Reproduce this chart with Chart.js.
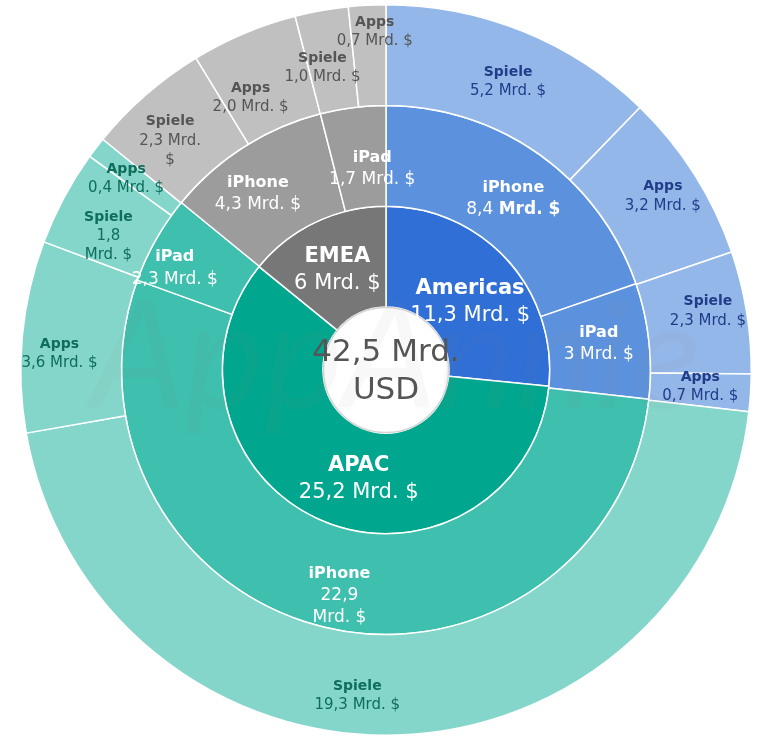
<!DOCTYPE html>
<html>
<head>
<meta charset="utf-8">
<script src="https://cdn.jsdelivr.net/npm/chart.js@4/dist/chart.umd.min.js"></script>
<style>
html,body{margin:0;padding:0;background:#fff;}
#wrap{width:757px;height:741px;}
</style>
</head>
<body>
<div id="wrap"><canvas id="c" width="757" height="741"></canvas></div>
<script>
// ---- data ----
const regions = ['Americas', 'APAC', 'EMEA'];
const regionValues = [11.3, 25.2, 6];
const devices = ['iPhone', 'iPad', 'iPhone', 'iPad', 'iPhone', 'iPad'];
const deviceValues = [8.4, 3, 22.9, 2.3, 4.3, 1.7];
const kinds = ['Spiele', 'Apps', 'Spiele', 'Apps', 'Spiele', 'Apps', 'Spiele', 'Apps', 'Spiele', 'Apps', 'Spiele', 'Apps'];
const kindValues = [5.2, 3.2, 2.3, 0.7, 19.3, 3.6, 1.8, 0.4, 2.3, 2.0, 1.0, 0.7];
const totalLabel = '42,5 Mrd.';
const totalUnit = 'USD';
const unit = 'Mrd. $';

// ---- styles ----
const innerColors = ['#2f6fd6', '#00a68d', '#777777'];
const middleColors = ['#5c92dd', '#5c92dd', '#3fbfad', '#3fbfad', '#9c9c9c', '#9c9c9c'];
const outerColors = ['#94b7e9','#94b7e9','#94b7e9','#94b7e9','#84d6ca','#84d6ca','#84d6ca','#84d6ca','#c0c0c0','#c0c0c0','#c0c0c0','#c0c0c0'];
const outerText = ['#1f3d88','#1f3d88','#1f3d88','#1f3d88','#0e6d5b','#0e6d5b','#0e6d5b','#0e6d5b','#555555','#555555','#555555','#555555'];

const fmtPlain = v => String(v).replace('.', ',');
const fmtFixed = v => v.toFixed(1).replace('.', ',');

// line-break rules: 'num' -> number on its own line, 'dollar' -> '$' on its own line
const outerBreaks = {6: 'num', 8: 'dollar'};
const middleBreaks = {2: 'num'};
const middleBoldUnit = {0: true};

// small label nudges relative to arc centre (ring-index)
const labelNudge = {
  '0-0': [4, 4], '0-1': [11, -5], '0-2': [11, -9], '0-3': [0, -3],
  '0-4': [-38, 11], '0-5': [-13, 13], '0-6': [0, 15], '0-7': [-10, 0],
  '0-8': [-9, 8], '0-9': [-13, 18], '0-10': [-8, 8], '0-11': [5, -24],
  '1-0': [3, 3], '1-1': [0, -3], '1-2': [2, 17], '1-3': [-25, 4],
  '1-4': [-13, 4], '1-5': [13, 11],
  '2-0': [0, 8], '2-1': [16, 4], '2-2': [0, 2]
};

function valueLines(valStr, brk) {
  if (brk === 'num') return [valStr, 'Mrd. $'];
  if (brk === 'dollar') return [valStr + ' Mrd.', '$'];
  return [valStr + ' ' + unit];
}

const FONT = "'DejaVu Sans', sans-serif";

const ringStyle = [
  {nameSize: 14, valSize: 15, lh: 19},   // outer
  {nameSize: 16, valSize: 17, lh: 22},   // middle
  {nameSize: 21, valSize: 21, lh: 27}    // inner
];

const sunPlugin = {
  id: 'sun',
  afterDatasetsDraw(chart) {
    const ctx = chart.ctx;
    const innerMeta = chart.getDatasetMeta(2);
    const a0 = innerMeta.data[0];
    const cx = a0.x, cy = a0.y, hole = a0.innerRadius;

    // watermark
    ctx.save();
    ctx.font = "italic 150px Lato, sans-serif";
    ctx.fillStyle = 'rgba(140,140,140,0.06)';
    ctx.textAlign = 'center';
    ctx.textBaseline = 'middle';
    ctx.fillText('AppAnnie', cx + 10, cy - 10);
    ctx.restore();

    // center circle outline
    ctx.save();
    ctx.beginPath();
    ctx.arc(cx, cy, hole - 0.5, 0, Math.PI * 2);
    ctx.strokeStyle = '#d4d4d4';
    ctx.lineWidth = 1.5;
    ctx.stroke();
    ctx.restore();

    ctx.save();
    ctx.textAlign = 'center';
    ctx.textBaseline = 'middle';
    chart.data.datasets.forEach((ds, di) => {
      const meta = chart.getDatasetMeta(di);
      const st = ringStyle[di];
      meta.data.forEach((arc, i) => {
        const c = arc.getCenterPoint();
        const nd = labelNudge[di + '-' + i] || [0, 0];
        const p = {x: c.x + nd[0], y: c.y + nd[1]};
        const name = ds.names[i];
        const v = ds.data[i];
        let vLines;
        if (di === 0) vLines = valueLines(fmtFixed(v), outerBreaks[i]);
        else if (di === 1) vLines = valueLines(fmtPlain(v), middleBreaks[i]);
        else vLines = valueLines(fmtPlain(v), undefined);
        const n = 1 + vLines.length;
        let y = p.y - (n - 1) * st.lh / 2;
        ctx.fillStyle = ds.textColors[i];
        ctx.font = `bold ${st.nameSize}px ${FONT}`;
        ctx.fillText(name, p.x, y);
        vLines.forEach(txt => {
          y += st.lh;
          if (di === 1 && middleBoldUnit[i] && txt.endsWith(unit)) {
            const numPart = txt.slice(0, txt.length - unit.length);
            ctx.font = `${st.valSize}px ${FONT}`;
            const w1 = ctx.measureText(numPart).width;
            ctx.font = `bold ${st.valSize}px ${FONT}`;
            const w2 = ctx.measureText(unit).width;
            const x0 = p.x - (w1 + w2) / 2;
            ctx.textAlign = 'left';
            ctx.font = `${st.valSize}px ${FONT}`;
            ctx.fillText(numPart, x0, y);
            ctx.font = `bold ${st.valSize}px ${FONT}`;
            ctx.fillText(unit, x0 + w1, y);
            ctx.textAlign = 'center';
          } else {
            ctx.font = `${st.valSize}px ${FONT}`;
            ctx.fillText(txt, p.x, y);
          }
        });
      });
    });

    // center total
    ctx.fillStyle = '#555555';
    ctx.font = `31px ${FONT}`;
    ctx.fillText(totalLabel, cx, cy - 17);
    ctx.fillText(totalUnit, cx, cy + 21);
    ctx.restore();
  }
};

new Chart(document.getElementById('c'), {
  type: 'doughnut',
  data: {
    labels: kinds,
    datasets: [
      {data: kindValues, names: kinds, backgroundColor: outerColors, textColors: outerText,
       borderColor: '#ffffff', borderWidth: 1.5},
      {data: deviceValues, names: devices, backgroundColor: middleColors, textColors: Array(6).fill('#ffffff'),
       borderColor: '#ffffff', borderWidth: 1.5},
      {data: regionValues, names: regions, backgroundColor: innerColors, textColors: Array(3).fill('#ffffff'),
       borderColor: '#ffffff', borderWidth: 1.5}
    ]
  },
  options: {
    responsive: false,
    animation: false,
    devicePixelRatio: 1,
    cutout: '17.25%',
    layout: {padding: {left: 20, right: 5, top: 4, bottom: 5}},
    plugins: {legend: {display: false}, tooltip: {enabled: false}},
    events: []
  },
  plugins: [sunPlugin]
});
</script>
</body>
</html>
